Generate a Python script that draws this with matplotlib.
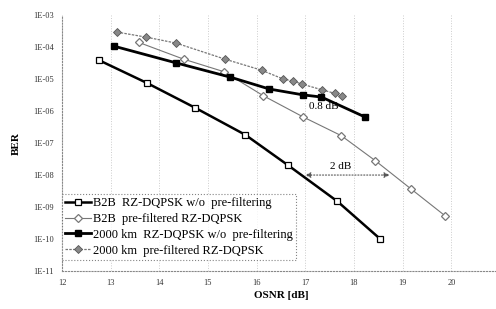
import matplotlib
matplotlib.use("Agg")
import matplotlib.pyplot as plt
from matplotlib.ticker import FixedLocator, FixedFormatter

# B2B RZ-DQPSK w/o pre-filtering
b2b_x = [12.76, 13.75, 14.74, 15.77, 16.65, 17.66, 18.54]
b2b_ber = [3.9e-5, 7.5e-6, 1.26e-6, 1.8e-7, 2.0e-8, 1.5e-9, 1.0e-10]

# B2B pre-filtered RZ-DQPSK
b2b_pf_x = [13.58, 14.5, 15.33, 16.14, 16.96, 17.74, 18.44, 19.18, 19.88]
b2b_pf_ber = [1.4e-4, 4.2e-5, 1.7e-5, 3.0e-6, 6.5e-7, 1.7e-7, 2.8e-8, 3.6e-9, 5.2e-10]

# 2000 km RZ-DQPSK w/o pre-filtering
km_x = [13.07, 14.35, 15.46, 16.26, 16.96, 17.33, 18.23]
km_ber = [1.07e-4, 3.2e-5, 1.15e-5, 4.9e-6, 3.2e-6, 2.75e-6, 6.5e-7]

# 2000 km pre-filtered RZ-DQPSK
km_pf_x = [13.13, 13.73, 14.35, 15.35, 16.1, 16.55, 16.75, 16.94, 17.35, 17.6, 17.76]
km_pf_ber = [2.95e-4, 2.05e-4, 1.33e-4, 4.2e-5, 1.9e-5, 1.0e-5, 8.7e-6, 6.9e-6, 4.6e-6, 3.6e-6, 2.95e-6]

labels = ["B2B  RZ-DQPSK w/o  pre-filtering",
          "B2B  pre-filtered RZ-DQPSK",
          "2000 km  RZ-DQPSK w/o  pre-filtering",
          "2000 km  pre-filtered RZ-DQPSK"]

y_ticks = [1e-3, 1e-4, 1e-5, 1e-6, 1e-7, 1e-8, 1e-9, 1e-10, 1e-11]
y_tick_labels = ["1E-03", "1E-04", "1E-05", "1E-06", "1E-07", "1E-08", "1E-09", "1E-10", "1E-11"]
x_ticks = list(range(12, 22))

plt.rcParams['font.family'] = ['Liberation Serif', 'DejaVu Serif']

fig = plt.figure(figsize=(4.96, 3.09), dpi=100)
ax = fig.add_axes([0.125, 0.123, 0.883, 0.828])

ax.plot(b2b_x, b2b_ber, color='black', lw=1.8, marker='s', ms=5,
        mfc='white', mec='black', mew=0.9, label=labels[0], zorder=4)
ax.plot(b2b_pf_x, b2b_pf_ber, color='#777777', lw=0.8, marker='D', ms=4.5,
        mfc='white', mec='#777777', mew=0.9, label=labels[1], zorder=3)
ax.plot(km_x, km_ber, color='black', lw=2.0, marker='s', ms=5,
        mfc='black', mec='black', label=labels[2], zorder=4)
ax.plot(km_pf_x, km_pf_ber, color='#777777', lw=0.9, ls=(0, (2, 1)), marker='D', ms=4.5,
        mfc='#888888', mec='#555555', mew=0.6, label=labels[3], zorder=3)

ax.set_yscale('log')
ax.set_ylim(1e-11, 1e-3)
ax.set_xlim(12, 21)
ax.yaxis.set_major_locator(FixedLocator(y_ticks))
ax.yaxis.set_major_formatter(FixedFormatter(y_tick_labels))
ax.yaxis.set_minor_locator(FixedLocator([]))
ax.set_xticks(x_ticks)
ax.tick_params(labelsize=6, length=0, pad=6, colors='#333333')

ax.grid(axis='x', color='#cccccc', ls=':', lw=0.7)
for s in ['top', 'right']:
    ax.spines[s].set_visible(False)
for s in ['left', 'bottom']:
    ax.spines[s].set_linestyle(':')
    ax.spines[s].set_color('#888888')
    ax.spines[s].set_linewidth(0.8)

ax.set_xlabel("OSNR [dB]", fontsize=8, fontweight='bold', labelpad=3)
ax.set_ylabel("BER", fontsize=8, fontweight='bold', labelpad=9)

# annotations
ax.annotate("", xy=(16.94, 1e-8), xytext=(18.79, 1e-8),
            arrowprops=dict(arrowstyle='<|-|>', color='#555555', lw=0.8, ls=':',
                            mutation_scale=8))
ax.text(17.72, 1.8e-8, "2 dB", fontsize=8, ha='center', va='center')
ax.text(17.37, 1.35e-6, "0.8 dB", fontsize=8, ha='center', va='center')

leg = ax.legend(loc='upper left', bbox_to_anchor=(0.0, 0.30), fontsize=9,
                frameon=True, fancybox=False, borderpad=0.25, labelspacing=0.3,
                handlelength=2.1, handletextpad=0.15, borderaxespad=0)
leg.get_frame().set_edgecolor('#666666')
leg.get_frame().set_linestyle(':')
leg.get_frame().set_linewidth(0.8)

fig.savefig("out.png", dpi=100)
